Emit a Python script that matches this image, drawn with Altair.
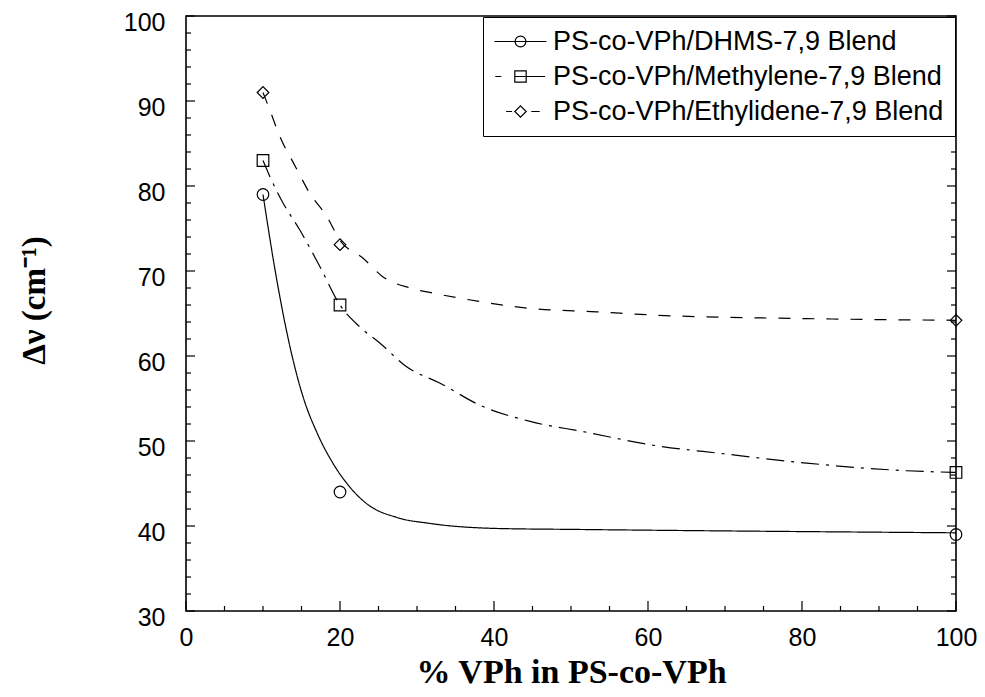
import altair as alt
import pandas as pd

# ---------------- data ----------------
series = [
    "PS-co-VPh/DHMS-7,9 Blend",
    "PS-co-VPh/Methylene-7,9 Blend",
    "PS-co-VPh/Ethylidene-7,9 Blend",
]

# measured points (markers)
marker_x = [10, 20, 100]
dhms_pts = [79, 44, 39]
meth_pts = [83, 66, 46.3]
ethy_pts = [91, 73.1, 64.2]

# fitted curves
dhms_cx = [10, 11.8, 13.5, 15.2, 17.0, 19.0, 20.9, 23.5, 27.4, 31.7, 40.8, 50.3, 100]
dhms_cy = [79, 68.9, 61.1, 55.2, 51.0, 47.5, 45.0, 42.6, 41.0, 40.3, 39.7, 39.6, 39.2]

meth_cx = [10, 10.9, 12.6, 14.8, 17.4, 20, 22.6, 25.2, 28.7, 33.0, 38.2, 44.7, 51.6, 60.7, 69.8, 80.6, 93.6, 100]
meth_cy = [83, 81.1, 78.0, 74.8, 70.5, 66.0, 63.4, 61.5, 58.7, 56.8, 54.2, 52.3, 51.1, 49.5, 48.5, 47.4, 46.5, 46.3]

ethy_cx = [10, 10.9, 12.2, 14.2, 16.1, 18.3, 20, 23.0, 25.6, 29.1, 32.1, 38.2, 44.7, 53.3, 61.1, 80.6, 100]
ethy_cy = [91, 88.9, 85.8, 82.3, 79.1, 76.4, 73.6, 71.5, 69.3, 68.0, 67.4, 66.4, 65.6, 65.2, 64.8, 64.4, 64.2]

x_major = [0, 20, 40, 60, 80, 100]
x_minor = [5, 10, 15, 25, 30, 35, 45, 50, 55, 65, 70, 75, 85, 90, 95]
y_major = [30, 40, 50, 60, 70, 80, 90, 100]
y_minor = [v for v in range(32, 100, 2) if v % 10 != 0]

# ---------------- tables ----------------
pts = pd.DataFrame({
    "series": [series[0]] * 3 + [series[1]] * 3 + [series[2]] * 3,
    "x": marker_x * 3,
    "y": dhms_pts + meth_pts + ethy_pts,
})
crv = pd.concat([
    pd.DataFrame({"series": series[0], "x": dhms_cx, "y": dhms_cy}),
    pd.DataFrame({"series": series[1], "x": meth_cx, "y": meth_cy}),
    pd.DataFrame({"series": series[2], "x": ethy_cx, "y": ethy_cy}),
], ignore_index=True)
xticks = pd.DataFrame({"v": x_major + x_minor, "major": [True] * len(x_major) + [False] * len(x_minor)})
yticks = pd.DataFrame({"v": y_major + y_minor, "major": [True] * len(y_major) + [False] * len(y_minor)})

W, H = 770, 595
SANS = "Liberation Sans"
SERIF = "Liberation Serif"
X0, X1, Y0 = 0, 100, 30

xs = alt.Scale(domain=[X0, X1], nice=False, zero=False)
ys = alt.Scale(domain=[Y0, 100], nice=False, zero=False)

lines = alt.Chart(crv).mark_line(color="black", strokeWidth=1.2, interpolate="monotone").encode(
    x=alt.X("x:Q", scale=xs, axis=alt.Axis(
        orient="bottom", values=x_major, ticks=False, domain=False, grid=False,
        labelFont=SANS, labelFontSize=25, labelColor="black", labelPadding=14,
        labelFlush=False, labelOverlap=False,
        title="% VPh in PS-co-VPh", titleFont=SERIF, titleFontSize=34, titleFontWeight="bold",
        titleColor="black", titleY=71, titleBaseline="alphabetic")),
    y=alt.Y("y:Q", scale=ys, axis=alt.Axis(
        orient="left", values=y_major, ticks=False, domain=False, grid=False,
        labelFont=SANS, labelFontSize=25, labelColor="black", labelPadding=21, labelOffset=6,
        labelFlush=False, labelOverlap=False,
        title="Δν (cm⁻¹)", titleFont=SERIF, titleFontSize=33, titleFontWeight="bold",
        titleColor="black", titleX=-152, titleY=284, titleBaseline="middle", titleAlign="center")),
    strokeDash=alt.StrokeDash("series:N", scale=alt.Scale(domain=series, range=[[1, 0], [18, 7, 3, 7], [12, 12]]), legend=None),
)

points = alt.Chart(pts).mark_point(filled=False, color="black", strokeWidth=1.2, size=135, opacity=1).encode(
    x=alt.X("x:Q", scale=xs, axis=None),
    y=alt.Y("y:Q", scale=ys, axis=None),
    shape=alt.Shape("series:N", scale=alt.Scale(domain=series, range=["circle", "square", "diamond"]), legend=None),
)


# inward tick marks, placed through the x/y scales
def xtick_layer(is_major, length):
    return alt.Chart(xticks).transform_filter(
        alt.datum.major == is_major
    ).mark_tick(orient="vertical", size=length, thickness=1.2, color="black", opacity=1,
                yOffset=-length / 2).encode(
        x=alt.X("v:Q", scale=xs, axis=None),
        y=alt.datum(Y0, scale=ys, axis=None),
    )


def ytick_layer(is_major, length, at_x, sign):
    return alt.Chart(yticks).transform_filter(
        alt.datum.major == is_major
    ).mark_tick(orient="horizontal", size=length, thickness=1.2, color="black", opacity=1,
                xOffset=sign * length / 2).encode(
        y=alt.Y("v:Q", scale=ys, axis=None),
        x=alt.datum(at_x, scale=xs, axis=None),
    )


tick_layers = [
    xtick_layer(True, 10), xtick_layer(False, 5),
    ytick_layer(True, 9, X0, 1), ytick_layer(False, 5, X0, 1),
    ytick_layer(True, 9, X1, -1), ytick_layer(False, 5, X1, -1),
]

legend_paths = [
    "M-4.33,0L4.33,0M-0.9,0A0.9,0.9,0,1,0,0.9,0A0.9,0.9,0,1,0,-0.9,0Z",
    "M-4.2,0L-3.2,0M-1,0L4.1,0M-0.95,-0.95L0.95,-0.95L0.95,0.95L-0.95,0.95Z",
    "M-2.4,0L-1.4,0M1.8,0L3.2,0M0,-0.95L0.95,0L0,0.95L-0.95,0Z",
]

legend_layer = alt.Chart(pts).transform_filter("false").mark_point(
    filled=False, color="black", strokeWidth=1.2, opacity=1).encode(
    shape=alt.Shape("series:N", scale=alt.Scale(domain=series, range=legend_paths), legend=alt.Legend(
        orient="none", legendX=297, legendY=1, title=None, direction="vertical",
        strokeColor="black", fillColor="white", padding=11, rowPadding=7,
        labelFont=SANS, labelFontSize=27, labelColor="black", labelLimit=0,
        symbolSize=144, symbolStrokeWidth=1.2, symbolStrokeColor="black", symbolOpacity=1,
        symbolFillColor="transparent", symbolOffset=13, labelOffset=19)),
)

chart = alt.layer(lines, points, *tick_layers, legend_layer).resolve_axis(
    x="independent", y="independent"
).resolve_scale(
    shape="independent"
).properties(
    width=W, height=H,
    padding={"left": 178, "top": 8, "right": 21, "bottom": 78},
    autosize=alt.AutoSizeParams(type="none"),
    background="white",
).configure_view(stroke="black", strokeWidth=1.6)

chart.save("out.html", embed_options={"renderer": "svg", "actions": False})
